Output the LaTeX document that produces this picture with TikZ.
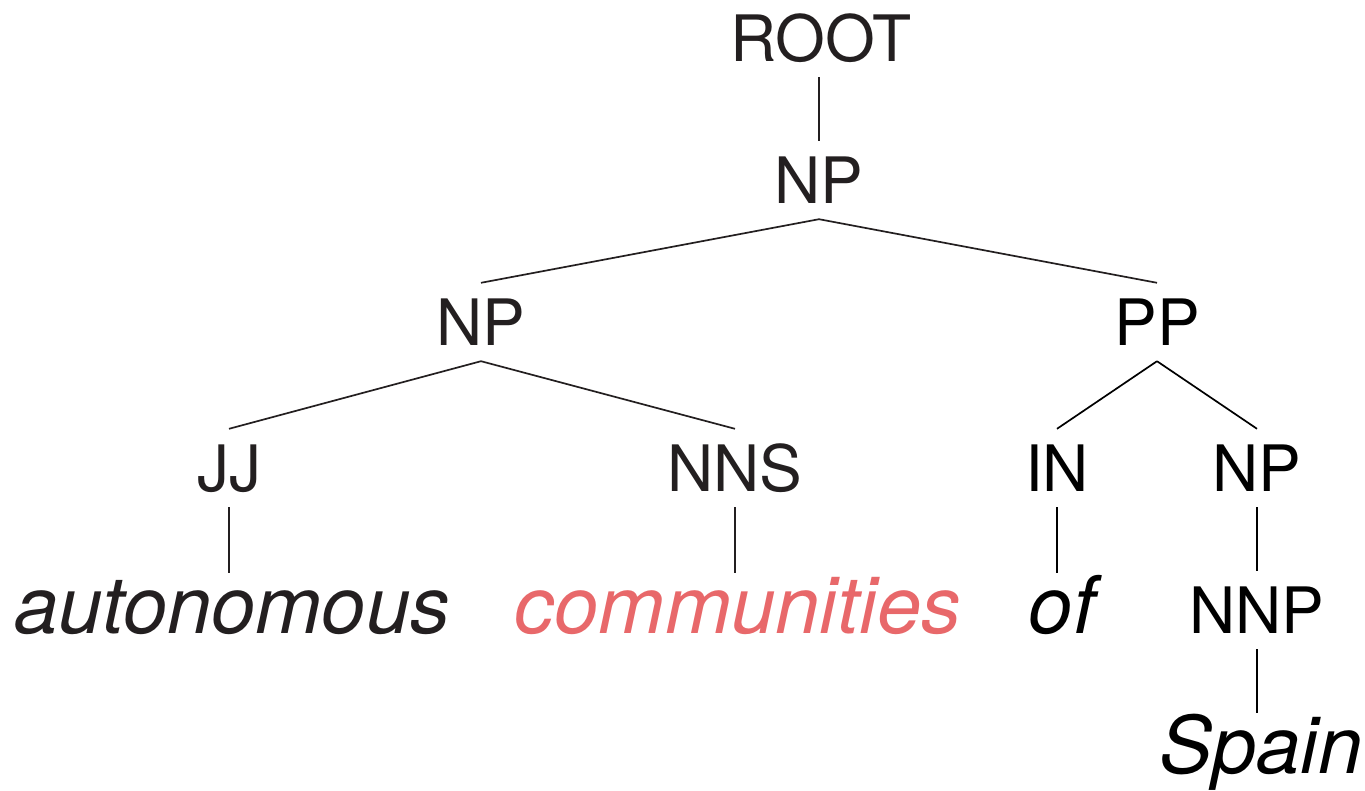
\documentclass[tikz,border=0pt]{standalone}
\usepackage{fontspec}
\setmainfont{TeX Gyre Heros}
\definecolor{ink}{HTML}{231F20}
\definecolor{hl}{HTML}{E8686A}
\begin{document}
\begin{tikzpicture}[x=1pt,y=-1pt,
  lab/.style={anchor=base,inner xsep=0pt,inner ysep=16pt,text height=46pt,text depth=0pt,font=\fontsize{64}{70}\selectfont},
  word/.style={anchor=base,inner xsep=0pt,inner ysep=2pt,text height=58pt,text depth=0pt,font=\fontsize{79.5}{84}\selectfont\itshape},
  edge/.style={line width=1.7pt}]
\useasboundingbox (0,0) rectangle (1365,790);
\begin{scope}[ink]
\node[lab] (root) at (821,61) {ROOT};
\node[lab] (np1) at (819,203) {NP};
\node[lab] (np2) at (481,345) {NP};
\node[lab] (jj) at (229,491) {JJ};
\node[lab] (nns) at (735,491) {NNS};
\node[word] (auto) at (232,633) {autonomous};
\node[word,hl] (comm) at (738,633) {communities};
\draw[edge] (np1.north) -- (np1.north |- root.south);
\draw[edge] (np1.south) -- (np2.north);
\draw[edge] (np2.south) -- (jj.north);
\draw[edge] (np2.south) -- (nns.north);
\draw[edge] (jj.south) -- (jj.south |- auto.north);
\draw[edge] (nns.south) -- (nns.south |- comm.north);
\end{scope}
\begin{scope}[black]
\node[lab] (pp) at (1157,345) {PP};
\node[lab] (in) at (1057,491) {IN};
\node[lab] (np3) at (1257,491) {NP};
\node[word] (of) at (1062,633) {of};
\node[lab] (nnp) at (1257,633) {NNP};
\node[word] (spain) at (1261,773) {Spain};
\draw[edge,ink] (np1.south) -- (pp.north);
\draw[edge] (pp.south) -- (in.north);
\draw[edge] (pp.south) -- (np3.north);
\draw[edge] (in.south) -- (in.south |- of.north);
\draw[edge] (np3.south) -- (nnp.north);
\draw[edge] (nnp.south) -- (nnp.south |- spain.north);
\end{scope}
\end{tikzpicture}
\end{document}
